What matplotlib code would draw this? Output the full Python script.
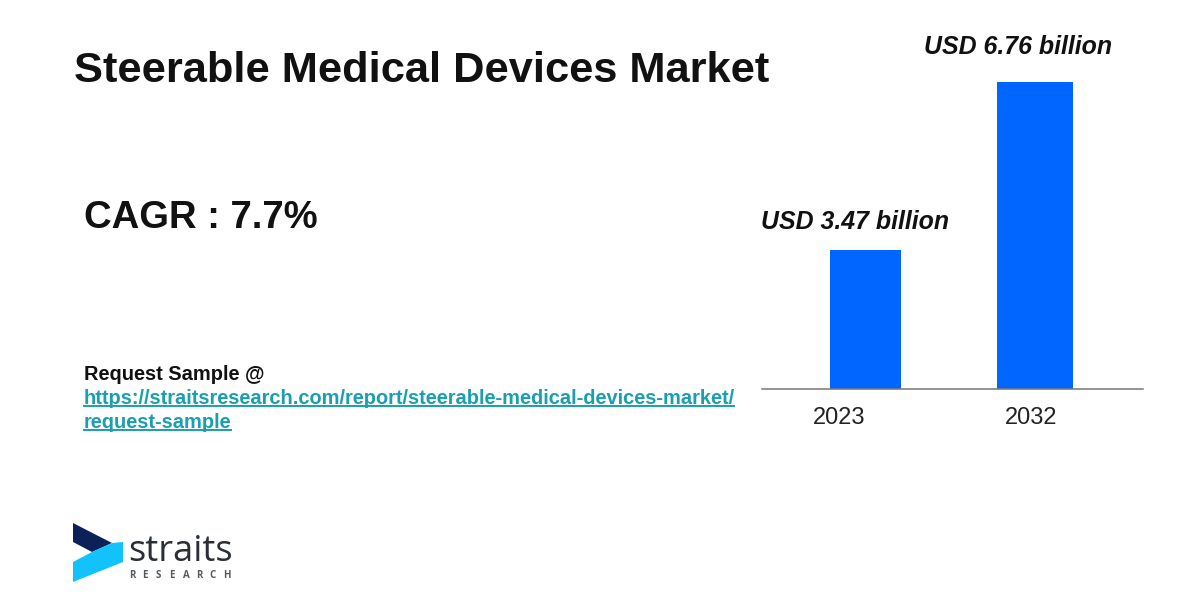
import matplotlib
matplotlib.use("Agg")
import matplotlib.pyplot as plt
from matplotlib.patches import Polygon

years = ["2023", "2032"]
# bar heights as drawn: the picture is not strictly to scale with the labels
bar_values = [3.05, 6.76]
bar_labels = ["USD 3.47 billion", "USD 6.76 billion"]
bar_centers = [865.5, 1035]
bar_widths = [71, 76]
tick_centers = [839, 1031]
label_centers = [855, 1018]
label_offsets = [28, 34.5]

title = "Steerable Medical Devices Market"
cagr = "CAGR : 7.7%"
request = "Request Sample @"
link_lines = ["https://straitsresearch.com/report/steerable-medical-devices-market/", "request-sample"]

plt.rcParams["font.family"] = ["Liberation Sans", "DejaVu Sans"]

fig = plt.figure(figsize=(12, 6), dpi=100)

# overlay in pixel coordinates for the slide text and the logo
bg = fig.add_axes([0, 0, 1, 1])
bg.set_xlim(0, 1200)
bg.set_ylim(600, 0)
bg.axis("off")

bg.text(74, 70.5, title, fontsize=31.2, fontweight="bold", color="#111111", va="center", ha="left")
bg.text(84, 218, cagr, fontsize=27.5, fontweight="bold", color="#111111", va="center", ha="left")
bg.text(84, 374, request, fontsize=14.4, fontweight="bold", color="#111111", va="center", ha="left")

link_color = "#1a9fb0"
for y, line in zip([398, 422], link_lines):
    t = bg.text(84, y, line, fontsize=14.45, fontweight="bold", color=link_color, va="center", ha="left")
    fig.canvas.draw()
    box = t.get_window_extent()
    bg.plot([84, box.x1 - 1], [y + 8, y + 8], color=link_color, lw=1.4)

# logo
bg.add_patch(Polygon([(73, 523), (112, 543), (92, 552), (73, 542)], closed=True, color="#0b2157", lw=0))
bg.add_patch(Polygon([(92, 552), (112, 543), (123, 542), (123, 562), (73, 582), (73, 562)],
                     closed=True, color="#12c2fb", lw=0))
bg.text(128, 552, "straits", fontsize=26, family="Open Sans", color="#2a2f36", va="center", ha="left")
for i, letter in enumerate("RESEARCH"):
    bg.text(129 + i * 13.4, 575, letter, fontsize=7, family="Open Sans", fontweight="bold", color="#555a60",
            va="center", ha="left")

# bar chart, x axis in slide pixels
ax = fig.add_axes([762 / 1200, (600 - 388.5) / 600, (1143 - 762) / 1200, (388.5 - 82) / 600])
ax.patch.set_alpha(0)
ax.bar(bar_centers, bar_values, width=bar_widths, color="#0066ff")
ax.set_xlim(762, 1143)
ax.set_ylim(0, 6.76)
for s in ["top", "left", "right"]:
    ax.spines[s].set_visible(False)
ax.spines["bottom"].set_color("#777777")
ax.spines["bottom"].set_linewidth(1.1)
ax.set_yticks([])
ax.set_xticks(tick_centers)
ax.set_xticklabels(years, fontsize=17, color="#222222")
ax.tick_params(axis="x", length=0, pad=13)

for x, v, lab, off in zip(label_centers, bar_values, bar_labels, label_offsets):
    ax.annotate(lab, (x, v), xytext=(0, off), textcoords="offset pixels", ha="center", va="center",
                fontsize=17.9, fontweight="bold", fontstyle="italic", color="#111111", annotation_clip=False)

fig.savefig("out.png", dpi=100)
